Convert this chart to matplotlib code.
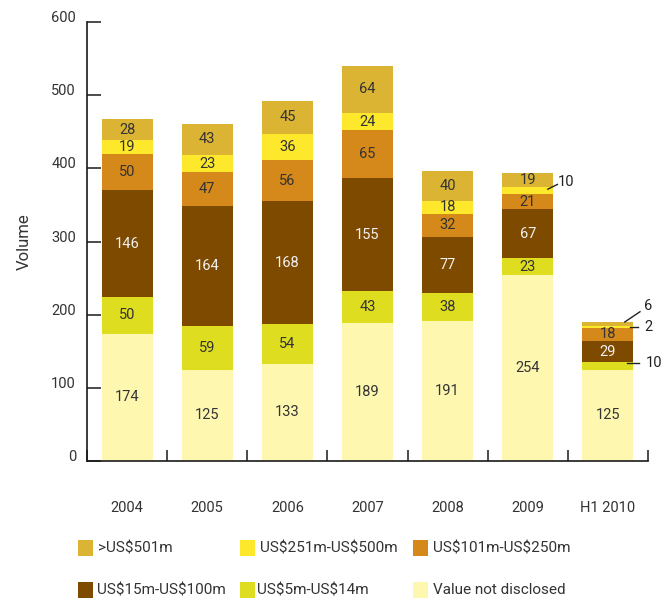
import matplotlib.pyplot as plt
import numpy as np
from matplotlib.patches import Rectangle

plt.rcParams['font.family'] = ['Roboto', 'DejaVu Sans']
plt.rcParams['text.parse_math'] = False

# Deal volume by value band
years = ['2004', '2005', '2006', '2007', '2008', '2009', 'H1 2010']
not_disclosed = [174, 125, 133, 189, 191, 254, 125]
us5_14 = [50, 59, 54, 43, 38, 23, 10]
us15_100 = [146, 164, 168, 155, 77, 67, 29]
us101_250 = [50, 47, 56, 65, 32, 21, 18]
us251_500 = [19, 23, 36, 24, 18, 10, 2]
over501 = [28, 43, 45, 64, 40, 19, 6]

series = [not_disclosed, us5_14, us15_100, us101_250, us251_500, over501]
names = ['Value not disclosed', 'US$5m-US$14m', 'US$15m-US$100m',
         'US$101m-US$250m', 'US$251m-US$500m', '>US$501m']
colors = ['#FEF7B0', '#DFDD20', '#7E4A00', '#D4891A', '#FDE82B', '#DBB434']
text_colors = ['#333333', '#333333', '#F2F2F2', '#333333', '#333333', '#333333']

# segments too thin for an inside label: (series idx, year idx) -> text pos, line start, line end
outside = {
    (4, 5): ((5.37, 382), (5.25, 371.5), (5.37, 378)),
    (5, 6): ((6.45, 212), (6.21, 190), (6.40, 204)),
    (4, 6): ((6.45, 183), (6.28, 183), (6.37, 183)),
    (1, 6): ((6.47, 134), (6.24, 134), (6.39, 134)),
}

fig = plt.figure(figsize=(6.71, 6.03), dpi=100)
ax = fig.add_axes([87 / 671, 1 - 461 / 603, (648 - 87) / 671, (461 - 22) / 603])

x = np.arange(len(years))
width = 0.635
bottom = np.zeros(len(years))
for i, (vals, col) in enumerate(zip(series, colors)):
    vals = np.array(vals)
    ax.bar(x, vals, width, bottom=bottom, color=col, linewidth=0)
    for j, v in enumerate(vals):
        mid = bottom[j] + v / 2
        if (i, j) in outside:
            tpos, p0, p1 = outside[(i, j)]
            ax.plot([p0[0], p1[0]], [p0[1], p1[1]], color='#222222', lw=1, clip_on=False)
            ax.text(tpos[0], tpos[1], str(v), ha='left', va='center',
                    fontsize=10.5, color='#222222', clip_on=False)
        else:
            ax.text(j, mid, str(v), ha='center', va='center',
                    fontsize=10.5, color=text_colors[i])
    bottom += vals

ax.set_xlim(-0.5, 6.5)
ax.set_ylim(0, 600)

for s in ['top', 'right']:
    ax.spines[s].set_visible(False)
for s in ['left', 'bottom']:
    ax.spines[s].set_color('#1a1a1a')
    ax.spines[s].set_linewidth(1.2)

ax.set_yticks(range(0, 601, 100))
ax.tick_params(axis='y', direction='in', length=10, width=1.1, color='#1a1a1a',
               pad=8, labelsize=10.5, labelcolor='#333333')
plt.setp(ax.get_yticklabels(), va='baseline')

ax.set_xticks(np.arange(-0.5, 7, 1))
ax.set_xticklabels([])
ax.tick_params(axis='x', which='major', direction='in', length=8, width=1.1, color='#1a1a1a')
ax.set_xticks(x, minor=True)
ax.set_xticklabels(years, minor=True)
ax.tick_params(axis='x', which='minor', length=0, pad=29, labelsize=10.5, labelcolor='#333333')

ax.set_ylabel('Volume', fontsize=12, color='#333333')
ax.yaxis.set_label_coords(-0.098, 0.5)

# legend laid out in two rows of three
legend_items = [('>US$501m', 5, 78, 98, 548), ('US$251m-US$500m', 4, 240, 260, 548),
                ('US$101m-US$250m', 3, 413, 433, 548), ('US$15m-US$100m', 2, 78, 97, 590),
                ('US$5m-US$14m', 1, 240, 257, 590), ('Value not disclosed', 0, 413, 433, 590)]
for label, idx, sx, tx, cy in legend_items:
    fig.add_artist(Rectangle((sx / 671, 1 - (cy + 8) / 603), 15 / 671, 16 / 603,
                             transform=fig.transFigure, color=colors[idx], lw=0))
    fig.text(tx / 671, 1 - cy / 603, label, ha='left', va='center',
             fontsize=11, color='#333333')

fig.savefig('out.png', dpi=100)
